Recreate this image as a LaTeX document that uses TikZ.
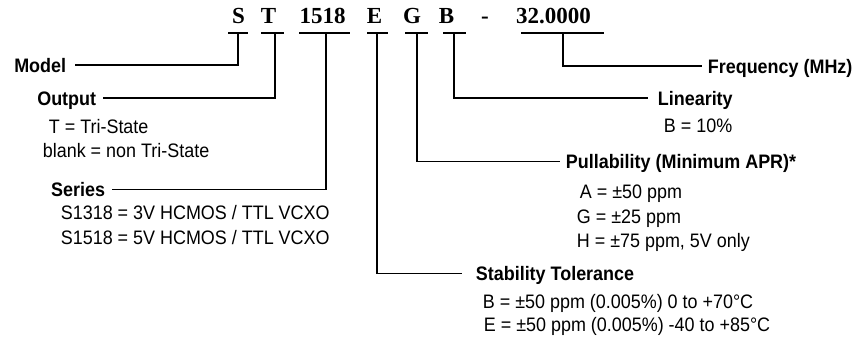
\documentclass[tikz,border=0pt]{standalone}
\usepackage{fontspec}
\setmainfont{Liberation Sans}[FakeStretch=0.92]
\newfontfamily\codefont{Liberation Serif}
\begin{document}
\begin{tikzpicture}[x=1pt,y=-1pt,line width=1.8pt,
  code/.style={anchor=base,inner sep=0pt,font=\codefont\bfseries\fontsize{23}{25}\selectfont},
  lbl/.style={inner xsep=6pt,inner ysep=0pt,text height=14pt,text depth=0pt,font=\bfseries\fontsize{19.5}{21}\selectfont},
  desc/.style={anchor=base west,inner sep=0pt,font=\fontsize{19.5}{21}\selectfont},
  conn/.style={line width=1.8pt}]
\useasboundingbox (0,0) rectangle (858,337);
% part number code
\node[code] (cS) at (238.5,24) {S};
\node[code] (cT) at (268.5,24) {T};
\node[code] (c1518) at (322.5,24) {1518};
\node[code] (cE) at (374.5,24) {E};
\node[code] (cG) at (412,24) {G};
\node[code] (cB) at (446.5,24) {B};
\node[code] (cdash) at (485,24) {-};
\node[code] (cF) at (553.5,24) {32.0000};
% underline anchor points
\coordinate (uS) at (238,33);
\coordinate (uT) at (275,33);
\coordinate (u1518) at (326,33);
\coordinate (uE) at (377,33);
\coordinate (uG) at (417,33);
\coordinate (uB) at (454,33);
\coordinate (uF) at (563,33);
\draw ([xshift=-10pt]uS) -- ([xshift=10pt]uS);
\draw ([xshift=-14pt]uT) -- ([xshift=9pt]uT);
\draw ([xshift=-27pt]u1518) -- ([xshift=24pt]u1518);
\draw ([xshift=-10pt]uE) -- ([xshift=11pt]uE);
\draw ([xshift=-12pt]uG) -- ([xshift=11pt]uG);
\draw ([xshift=-11pt]uB) -- ([xshift=12pt]uB);
\draw ([xshift=-42pt]uF) -- ([xshift=41pt]uF);
% labels
\node[lbl,anchor=east,inner xsep=8pt] (model) at (75,65) {Model};
\node[lbl,anchor=east] (output) at (103,98) {Output};
\node[lbl,anchor=east] (series) at (112,189.5) {Series};
\node[lbl,anchor=west,inner xsep=5pt] (freq) at (702,66) {Frequency (MHz)};
\node[lbl,anchor=west,inner xsep=9pt] (lin) at (648,98) {Linearity};
\node[lbl,anchor=west,inner xsep=5pt] (pull) at (560,161.5) {Pullability (Minimum APR)*};
\node[lbl,anchor=west,inner xsep=13pt] (stab) at (462,273.5) {Stability Tolerance};
% descriptions
\node[desc] (tri) at (48,133) {T = Tri-State};
\node[desc] (blank) at (42,157) {blank = non Tri-State};
\node[desc] (s13) at (60,219) {S1318 = 3V HCMOS / TTL VCXO};
\node[desc] (s15) at (60,244) {S1518 = 5V HCMOS / TTL VCXO};
\node[desc] (b10) at (663,132) {B = 10\%};
\node[desc] (pa) at (579,198) {A = ±50 ppm};
\node[desc] (pg) at (576,223) {G = ±25 ppm};
\node[desc] (ph) at (576,247) {H = ±75 ppm, 5V only};
\node[desc] (sb) at (482,308) {B = ±50 ppm (0.005\%) 0 to +70°C};
\node[desc] (se) at (483,331) {E = ±50 ppm (0.005\%) -40 to +85°C};
% connectors
\draw[conn] (uS) |- (model.east);
\draw[conn] (uT) |- (output.east);
\draw[conn] (u1518) |- (series.east);
\draw[conn] (uE) |- (stab.west);
\draw[conn] (uG) |- (pull.west);
\draw[conn] (uB) |- (lin.west);
\draw[conn] (uF) |- (freq.west);
\end{tikzpicture}
\end{document}
